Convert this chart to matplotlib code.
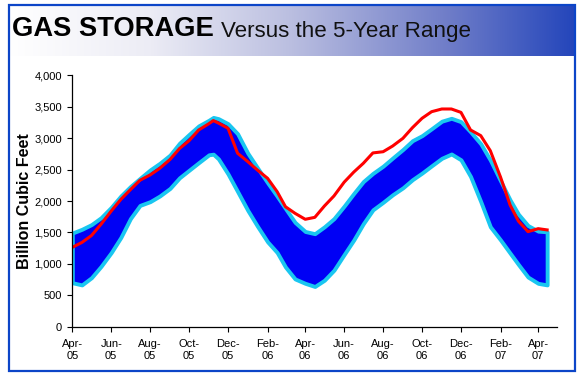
import numpy as np
import pandas as pd
import matplotlib
matplotlib.use("Agg")
import matplotlib.pyplot as plt
import matplotlib.dates as mdates
from matplotlib.colors import LinearSegmentedColormap
from matplotlib.patches import Rectangle
from matplotlib.ticker import FuncFormatter, MultipleLocator

plt.rcParams["font.family"] = ["Liberation Sans", "DejaVu Sans"]

# semimonthly readings (billion cubic feet)
dates = [
    "2005-04-01", "2005-04-16", "2005-05-01", "2005-05-16", "2005-06-01", "2005-06-16",
    "2005-07-01", "2005-07-16", "2005-08-01", "2005-08-16", "2005-09-01", "2005-09-16",
    "2005-10-01", "2005-10-16", "2005-11-01", "2005-11-08", "2005-11-16", "2005-12-01",
    "2005-12-16", "2006-01-01", "2006-01-16", "2006-02-01", "2006-02-16", "2006-03-01",
    "2006-03-16", "2006-04-01", "2006-04-16", "2006-05-01", "2006-05-16", "2006-06-01",
    "2006-06-16", "2006-07-01", "2006-07-16", "2006-08-01", "2006-08-16", "2006-09-01",
    "2006-09-16", "2006-10-01", "2006-10-16", "2006-11-01", "2006-11-16", "2006-12-01",
    "2006-12-16", "2007-01-01", "2007-01-16", "2007-02-01", "2007-02-16", "2007-03-01",
    "2007-03-16", "2007-04-01", "2007-04-15",
]

five_year_max = [
    1490, 1550, 1625, 1735, 1900, 2080, 2230, 2360, 2495, 2600, 2730, 2920,
    3060, 3195, 3285, 3330, 3310, 3230, 3070, 2760, 2530, 2290, 2075, 1880,
    1660, 1515, 1480, 1590, 1720, 1920, 2120, 2310, 2440, 2555, 2685, 2820,
    2960, 3040, 3150, 3270, 3316, 3262, 3100, 2910, 2650, 2320, 2016, 1790,
    1610, 1520, 1510,
]

five_year_min = [
    700, 665, 780, 960, 1180, 1420, 1720, 1930, 1990, 2080, 2200, 2370,
    2490, 2610, 2735, 2745, 2670, 2430, 2150, 1850, 1600, 1350, 1180, 950,
    760, 690, 640, 740, 900, 1150, 1380, 1640, 1860, 1980, 2100, 2210,
    2340, 2445, 2560, 2680, 2748, 2655, 2390, 1990, 1590, 1380, 1170, 990,
    790, 690, 665,
]

storage = [
    1263, 1340, 1450, 1630, 1840, 2025, 2180, 2330, 2415, 2520, 2660, 2835,
    2960, 3130, 3230, 3280, 3240, 3157, 2760, 2626, 2493, 2361, 2148, 1909,
    1804, 1709, 1740, 1920, 2080, 2300, 2460, 2600, 2765, 2784, 2875, 2997,
    3167, 3316, 3421, 3464, 3464, 3410, 3130, 3040, 2800, 2380, 1936, 1680,
    1512, 1560, 1540,
]

x = pd.to_datetime(dates)

fig = plt.figure(figsize=(5.88, 3.78), dpi=100)
W, H = 588.0, 378.0

# header band with white -> blue gradient
hdr = fig.add_axes([9 / W, (H - 56) / H, 566 / W, 51 / H])
grad_cmap = LinearSegmentedColormap.from_list(
    "hdr",
    [(0.0, "#ffffff"), (0.25, "#ececf5"), (0.5, "#babee0"),
     (0.78, "#6e7cc8"), (1.0, "#2446bb")],
)
hdr.imshow(np.linspace(0, 1, 256)[None, :], aspect="auto", cmap=grad_cmap,
           extent=[0, 1, 0, 1])
hdr.set_axis_off()

# outer blue frame
fig.patches.append(Rectangle((9 / W, 7 / H), 566 / W, 366 / H,
                             transform=fig.transFigure, fill=False,
                             edgecolor="#0c45c8", linewidth=1.6, zorder=10))

t1 = fig.text(12.5 / W, (H - 36.5) / H, "GAS STORAGE", fontsize=19.7,
              fontweight="bold", color="black", va="baseline")
plt.annotate("Versus the 5-Year Range", xy=(1, 0), xycoords=t1,
             xytext=(5, 0), textcoords="offset points", fontsize=16.1,
             color="#111111", va="bottom", ha="left")

ax = fig.add_axes([72.3 / W, (H - 326.7) / H, 484.4 / W, 251.4 / H])

ax.fill_between(x, five_year_min, five_year_max, facecolor="#0000f5",
                edgecolor="#19c6f0", linewidth=2.8, joinstyle="round",
                zorder=2)
ax.plot(x, storage, color="#ff0000", linewidth=2.2, solid_joinstyle="round",
        zorder=3)

ax.set_xlim(pd.Timestamp("2005-04-01"), pd.Timestamp("2007-04-30"))
ax.set_ylim(0, 4000)

ax.xaxis.set_major_locator(mdates.MonthLocator(bymonth=[2, 4, 6, 8, 10, 12]))
ax.xaxis.set_major_formatter(mdates.DateFormatter("%b-\n%y"))
ax.yaxis.set_major_locator(MultipleLocator(500))
ax.yaxis.set_major_formatter(FuncFormatter(lambda v, p: f"{v:,.0f}"))

for lab in ax.get_xticklabels():
    lab.set_linespacing(1.35)

ax.tick_params(axis="both", direction="out", length=3.5, width=0.8,
               labelsize=8, colors="black")
ax.tick_params(axis="x", pad=5)
ax.tick_params(axis="y", pad=4)

for side in ["top", "right"]:
    ax.spines[side].set_visible(False)
for side in ["left", "bottom"]:
    ax.spines[side].set_linewidth(0.9)
    ax.spines[side].set_zorder(4)

ax.set_ylabel("Billion Cubic Feet", fontsize=11.5, fontweight="bold")
ax.yaxis.set_label_coords(-(72.3 - 32) / 484.4, 0.5)

fig.savefig("out.png", dpi=100)
